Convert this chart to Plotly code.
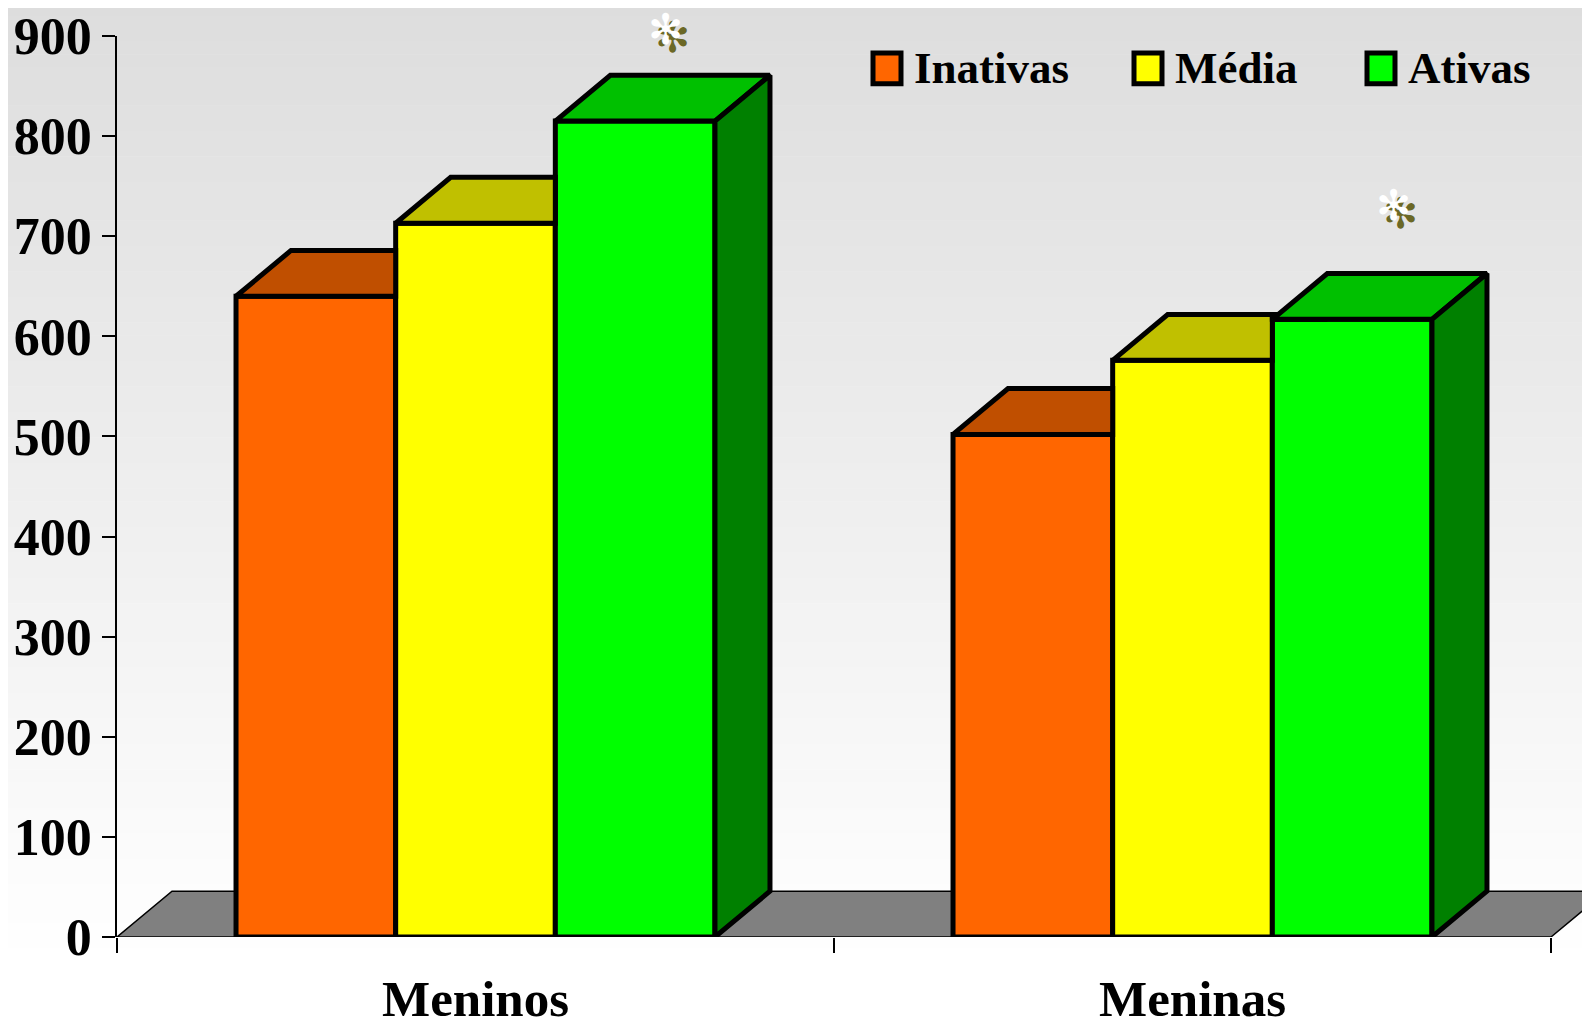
import plotly.graph_objects as go

# ---------------- data ----------------
categories = ["Meninos", "Meninas"]
series_names = ["Inativas", "Média", "Ativas"]
inativas = [640, 502]
media = [713, 576]
ativas = [815, 617]
y_ticks = [0, 100, 200, 300, 400, 500, 600, 700, 800, 900]
significant = [True, True]  # asterisk over "Ativas"

series_values = [inativas, media, ativas]

# ---------------- style ----------------
front_colors = ["#FF6600", "#FFFF00", "#00FF00"]
top_colors = ["#C04F00", "#C0C000", "#00C000"]
side_colors = ["#8A3A00", "#8A8A00", "#008000"]
floor_color = "#808080"
FONT = "Liberation Serif"
asterisk_dx_px = [30, 41]      # asterisk offset from bar centre (pixels)
asterisk_dy_val = [118, 140]   # asterisk height above bar value (axis units)

OFF = 8                       # page body margin of the browser
W, H = 1590 - OFF, 1025 - OFF
L = 117 - OFF
T = 33 - OFF
B = H - (937 - OFF)
R = 0
plot_w = W - L - R
plot_h = H - T - B
px_x = 717.0                  # pixels per category
x_max = plot_w / px_x
y_max = 900
px_y = plot_h / y_max

dx = 55 / px_x                # depth offset in data units
dy = 46 / px_y
group_width = 0.668
bar_w = group_width / len(series_names)
edge = 5


def px2paper_x(px):
    return (px - OFF - L) / plot_w


def px2paper_y(py):
    return (H - B - (py - OFF)) / plot_h


def clip(poly, a, b, c):
    """Keep the part of poly where a*x + b*y >= c."""
    out = []
    n = len(poly)
    for k in range(n):
        p, q = poly[k], poly[(k + 1) % n]
        fp = a * p[0] + b * p[1] - c
        fq = a * q[0] + b * q[1] - c
        if fp >= 0:
            out.append(p)
        if (fp >= 0) != (fq >= 0):
            t = fp / (fp - fq)
            out.append((p[0] + t * (q[0] - p[0]), p[1] + t * (q[1] - p[1])))
    return out


def area(poly):
    s = 0
    for k in range(len(poly)):
        x1, y1 = poly[k]
        x2, y2 = poly[(k + 1) % len(poly)]
        s += x1 * y2 - x2 * y1
    return abs(s) / 2


fig = go.Figure()

# front faces (real bars)
for si, name in enumerate(series_names):
    offset = -group_width / 2 + si * bar_w
    fig.add_trace(go.Bar(
        x=[i + 0.5 for i in range(len(categories))],
        y=series_values[si],
        width=bar_w, offset=offset, name=name,
        marker=dict(color=front_colors[si], line=dict(color="black", width=edge)),
        showlegend=False, hoverinfo="x+y",
    ))

# 3D top / side faces
for ci in range(len(categories)):
    c = ci + 0.5
    for si in range(len(series_names)):
        v = series_values[si][ci]
        l = c - group_width / 2 + si * bar_w
        r = l + bar_w
        top = [(l, v), (r, v), (r + dx, v + dy), (l + dx, v + dy)]
        side = [(r, 0), (r + dx, dy), (r + dx, v + dy), (r, v)]
        faces = []
        for poly, col in ((top, top_colors[si]), (side, side_colors[si])):
            if si < len(series_names) - 1:
                vn = series_values[si + 1][ci]
                pieces = [clip(poly, -1, 0, -r)]
                p2 = clip(poly, 1, 0, r)
                p2 = clip(p2, -1, 0, -(r + bar_w))
                p2 = clip(p2, 0, 1, vn)
                pieces.append(p2)
            else:
                pieces = [poly]
            for pc in pieces:
                if len(pc) >= 3 and area(pc) > 1e-6:
                    faces.append((pc, col))
        for pc, col in faces:
            xs = [p[0] for p in pc] + [pc[0][0]]
            ys = [p[1] for p in pc] + [pc[0][1]]
            fig.add_trace(go.Scatter(
                x=xs, y=ys, mode="lines", fill="toself", fillcolor=col,
                line=dict(color="black", width=edge), hoverinfo="skip",
                showlegend=False,
            ))

shapes = []
# background gradient
n_strips = 80
for k in range(n_strips):
    y0 = k * 1025 / n_strips
    y1 = (k + 1) * 1025 / n_strips + 0.5
    mid = (y0 + y1) / 2
    g = int(round(221 + 34 * min(1.0, mid / 960)))
    shapes.append(dict(type="rect", xref="paper", yref="paper", layer="below",
                       x0=px2paper_x(0), x1=px2paper_x(1600),
                       y0=px2paper_y(y0), y1=px2paper_y(y1),
                       fillcolor=f"rgb({g},{g},{g})", line=dict(width=0)))
# floor
n_cat = len(categories)
floor_path = (f"M 0 0 L {n_cat} 0 L {n_cat + dx} {dy} L {dx} {dy} Z")
shapes.append(dict(type="path", xref="x", yref="y", layer="below", path=floor_path,
                   fillcolor=floor_color, line=dict(color="black", width=1.5)))

# legend (custom, boxes + text)
annotations = []
legend_box_x = [873, 1134, 1367]
for si, name in enumerate(series_names):
    x0 = legend_box_x[si]
    shapes.append(dict(type="rect", xref="paper", yref="paper",
                       x0=px2paper_x(x0), x1=px2paper_x(x0 + 28),
                       y0=px2paper_y(81), y1=px2paper_y(50),
                       fillcolor=front_colors[si], line=dict(color="black", width=5)))
    annotations.append(dict(xref="paper", yref="paper", x=px2paper_x(x0 + 39),
                            y=px2paper_y(65), xanchor="left", yanchor="middle",
                            text=name, showarrow=False,
                            font=dict(family=FONT, size=45, color="black", weight="bold")))

# category labels
for ci, cat in enumerate(categories):
    annotations.append(dict(xref="x", yref="paper", x=ci + 0.5, y=0, yanchor="top",
                            yshift=-32, text=cat, showarrow=False,
                            font=dict(family=FONT, size=51, color="black", weight="bold")))

# asterisks over Ativas
for ci in range(n_cat):
    if significant[ci]:
        c = ci + 0.5
        xa = c - group_width / 2 + 2.5 * bar_w
        ya = (ativas[ci] + asterisk_dy_val[ci]) / y_max          # paper units
        annotations.append(dict(xref="x", yref="paper", x=xa, y=ya, text="✻",
                                showarrow=False, xshift=asterisk_dx_px[ci] + 7, yshift=-8,
                                font=dict(family="DejaVu Sans", size=42, color="#6B6826")))
        annotations.append(dict(xref="x", yref="paper", x=xa, y=ya, text="✻",
                                showarrow=False, xshift=asterisk_dx_px[ci],
                                font=dict(family="DejaVu Sans", size=42, color="white")))

fig.update_layout(
    width=W, height=H,
    margin=dict(l=L, r=R, t=T, b=B),
    paper_bgcolor="white", plot_bgcolor="rgba(0,0,0,0)",
    barmode="overlay", showlegend=False,
    shapes=shapes, annotations=annotations,
    xaxis=dict(range=[0, x_max], tickvals=list(range(n_cat + 1)),
               ticktext=[""] * (n_cat + 1), ticks="outside", ticklen=15,
               tickwidth=1.5, tickcolor="black", showline=False, showgrid=False,
               zeroline=False, fixedrange=True),
    yaxis=dict(range=[0, y_max], tickvals=y_ticks, ticks="outside", ticklen=13,
               tickwidth=1.5, tickcolor="black", showline=True, linecolor="black",
               linewidth=1.5, showgrid=False, zeroline=False,
               ticklabeloverflow="allow",
               tickfont=dict(family=FONT, size=52, color="black", weight="bold")),
)

fig.write_html("out.html")
